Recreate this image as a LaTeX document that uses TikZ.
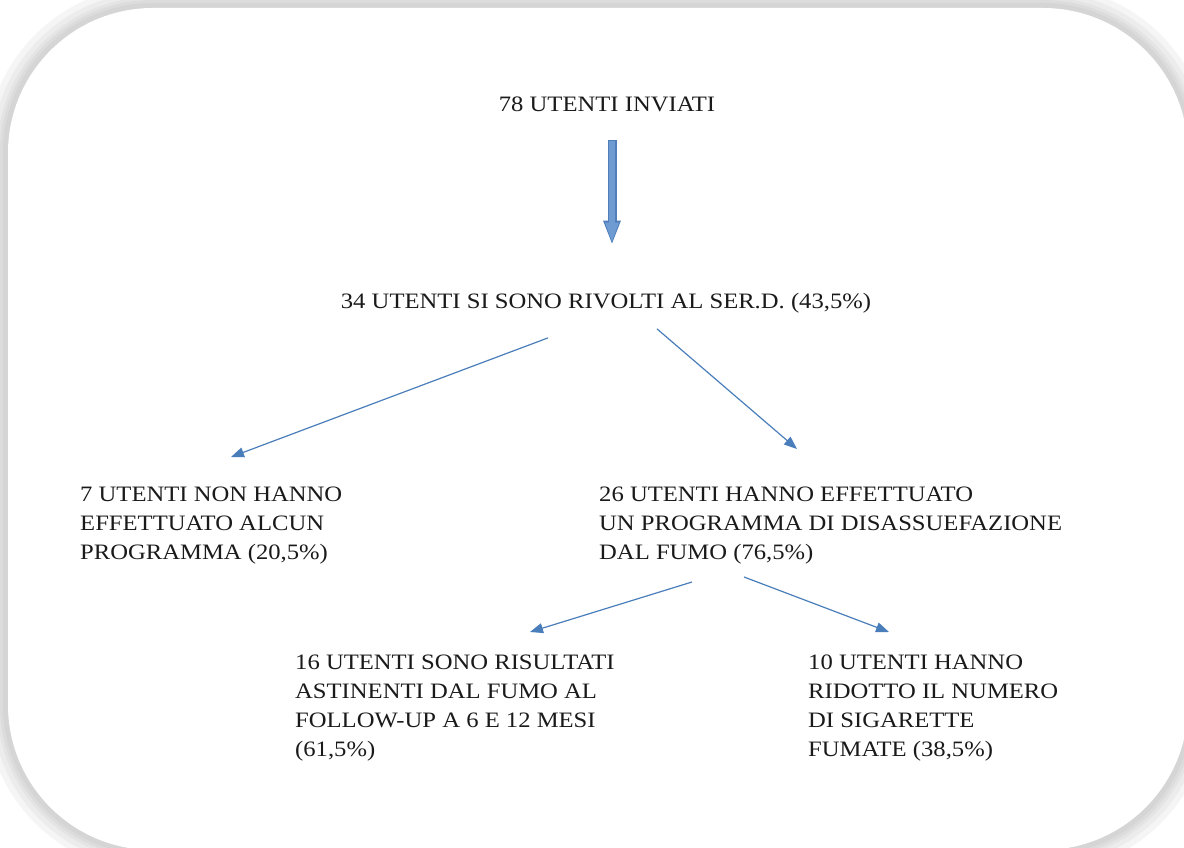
\documentclass[tikz,border=0pt]{standalone}
\usepackage{fontspec}
\setmainfont[FakeStretch=1.12]{Liberation Serif}
\usepackage{xcolor}
\usepackage{tikz}
\usetikzlibrary{arrows.meta}
\definecolor{linkblue}{HTML}{4A7EBB}
\definecolor{blockfill}{HTML}{6E9BD1}
\definecolor{blockline}{HTML}{4F7EBB}
\definecolor{ink}{HTML}{1A1A1A}

\begin{document}
\begin{tikzpicture}[x=1pt,y=1pt,->,>={Triangle[length=13pt,width=10pt]},
                    every node/.style={text=ink,inner sep=0pt,
                      font=\fontsize{22}{29}\selectfont},
                    centred/.style={anchor=base},
                    box/.style={align=left,anchor=north west},
                    link/.style={linkblue,line width=1.2pt}]
\useasboundingbox (0,0) rectangle (1184,-848);
% soft shadow of the rounded frame
\foreach \w in {44,32,22,16,10}
  \draw[-,gray,line width=\w pt,opacity=0.08,rounded corners=145pt]
    (8,-8) rectangle (1188,-850);
\fill[white,rounded corners=145pt] (8,-8) rectangle (1188,-850);

\node[centred] (inv) at (607,-112) {78 UTENTI INVIATI};
\node[centred] (rivolti) at (606,-308) {34 UTENTI SI SONO RIVOLTI AL SER.D. (43,5\%)};
\node[box] (nonprog) at (80,-487) {7 UTENTI NON HANNO\\EFFETTUATO ALCUN\\PROGRAMMA (20,5\%)};
\node[box] (prog) at (599,-487) {26 UTENTI HANNO EFFETTUATO\\UN PROGRAMMA DI DISASSUEFAZIONE\\DAL FUMO (76,5\%)};
\node[box] (astin) at (295,-655) {16 UTENTI SONO RISULTATI\\ASTINENTI DAL FUMO AL\\FOLLOW-UP A 6 E 12 MESI\\(61,5\%)};
\node[box] (ridotto) at (808,-655) {10 UTENTI HANNO\\RIDOTTO IL NUMERO\\DI SIGARETTE\\FUMATE (38,5\%)};

% block arrow
\draw[blockline,line width=9pt,-{Triangle[length=23pt,width=18pt,line width=0pt]}]
  ([shift={(5,-27)}]inv.south) -- ([shift={(6,49)}]rivolti.north);
\draw[blockfill,line width=6.5pt,shorten >=2pt,-{Triangle[length=19pt,width=14pt,line width=0pt]}]
  ([shift={(5,-28)}]inv.south) -- ([shift={(6,49)}]rivolti.north);

\path[link] ([shift={(-58,-25)}]rivolti.south) edge ([shift={(151,30)}]nonprog.north west)
            ([shift={(51,-16)}]rivolti.south) edge ([shift={(198,38)}]prog.north west)
            ([shift={(93,-95)}]prog.north west) edge ([shift={(235,23)}]astin.north west)
            ([shift={(145,-90)}]prog.north west) edge ([shift={(81,23)}]ridotto.north west);
\end{tikzpicture}
\end{document}
